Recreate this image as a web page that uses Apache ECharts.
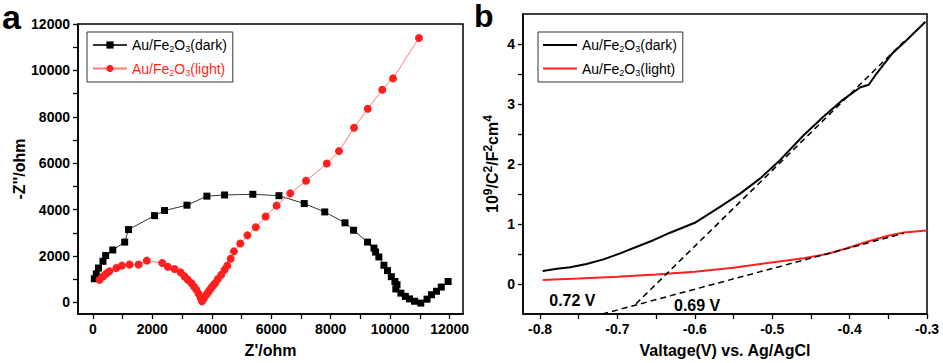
<!DOCTYPE html>
<html>
<head>
<meta charset="utf-8">
<script src="https://cdn.jsdelivr.net/npm/echarts@6/dist/echarts.min.js"></script>
<style>
html,body{margin:0;padding:0;background:#fff;}
#c{width:943px;height:363px;}
</style>
</head>
<body>
<div id="c"></div>
<script>
// ---- Panel a: Nyquist plot (Z' / -Z'') ----
const darkZre = [50,115,190,340,430,670,1070,1200,2075,2410,3165,3835,4430,5380,6260,7110,7800,8480,8770,9240,9455,9510,9620,9790,9910,10040,10160,10230,10190,10360,10510,10650,10820,11030,11240,11390,11560,11720,11950];
const darkZim = [1020,1230,1480,1770,2020,2260,2600,3140,3740,3960,4190,4580,4630,4660,4600,4260,3900,3430,3110,2600,2340,2170,1960,1600,1370,1110,900,760,580,400,260,150,50,-30,140,330,480,660,900];
const lightZre = [225,340,450,560,790,975,1235,1540,1815,2335,2525,2750,2950,3085,3195,3310,3400,3480,3555,3625,3670,3720,3780,3840,3895,3950,4005,4060,4120,4205,4320,4430,4520,4635,4745,4960,5200,5480,5810,6180,6640,7170,7870,8280,8785,9245,9735,10095,10970];
const lightZim = [980,1120,1240,1340,1485,1585,1630,1630,1800,1700,1530,1440,1295,1120,980,835,690,550,375,190,45,150,260,370,475,570,665,750,835,1010,1195,1410,1585,1885,2200,2540,2890,3240,3700,4170,4700,5240,5985,6520,7525,8345,9165,9655,11400];
const zreLabels = [0,2000,4000,6000,8000,10000,12000];
const zreTicks = [0,1000,2000,3000,4000,5000,6000,7000,8000,9000,10000,11000,12000];
const zimLabels = [0,2000,4000,6000,8000,10000,12000];
const zimTicks = [0,1000,2000,3000,4000,5000,6000,7000,8000,9000,10000,11000,12000];

// ---- Panel b: Mott-Schottky plot ----
const msDarkV = [-0.7965,-0.778,-0.761,-0.740,-0.718,-0.6965,-0.675,-0.6535,-0.632,-0.6,-0.567,-0.541,-0.5155,-0.4918,-0.4594,-0.4336,-0.4098,-0.386,-0.3753,-0.3667,-0.345,-0.3258,-0.302];
const msDarkC = [0.217,0.255,0.28,0.333,0.41,0.51,0.62,0.73,0.855,1.02,1.29,1.51,1.76,2.04,2.48,2.79,3.06,3.28,3.32,3.48,3.84,4.07,4.37];
const msLightV = [-0.7965,-0.75,-0.7,-0.65,-0.6,-0.55,-0.5155,-0.4594,-0.429,-0.4034,-0.3775,-0.3517,-0.33,-0.3];
const msLightC = [0.067,0.09,0.12,0.16,0.205,0.27,0.333,0.428,0.5,0.595,0.705,0.8,0.86,0.89];
const fitDarkV = [-0.676,-0.33];
const fitDarkC = [-0.33,4.04];
const fitLightV = [-0.7195,-0.33];
const fitLightC = [-0.5,0.845];
const annoV = [-0.7582,-0.597];
const annoC = [-0.267,-0.35];
const annoText = ['0.72 V','0.69 V'];
const vLabels = [-0.8,-0.7,-0.6,-0.5,-0.4,-0.3];
const vTicks = [-0.8,-0.75,-0.7,-0.65,-0.6,-0.55,-0.5,-0.45,-0.4,-0.35,-0.3];
const cLabels = [0,1,2,3,4];
const cTicks = [0,0.5,1,1.5,2,2.5,3,3.5,4];

const zip = (a,b) => a.map((v,i) => [v,b[i]]);
const FONT = 'Liberation Sans';
const RED = '#ff1f1f';

const legendNames = {
  eisDark: ['Au/Fe','2','O','3','(dark)'],
  eisLight: ['Au/Fe','2','O','3','(light)'],
  msDark: ['Au/Fe','2','O','3','(dark)'],
  msLight: ['Au/Fe','2','O','3','(light)']
};
function legendFmt(name){
  const p = legendNames[name];
  const red = name === 'eisLight';
  const t = red ? 'r' : 't', s = red ? 'rs' : 's';
  return `{${t}|${p[0]}}{${s}|${p[1]}}{${t}|${p[2]}}{${s}|${p[3]}}{${t}|${p[4]}}`;
}
function mkRich(){
  return {
    t: {fontSize: 14, fontFamily: FONT, color: '#000'},
    s: {fontSize: 9, fontFamily: FONT, color: '#000', padding: [8,0,0,0]},
    r: {fontSize: 14, fontFamily: FONT, color: RED},
    rs: {fontSize: 9, fontFamily: FONT, color: RED, padding: [8,0,0,0]}
  };
}
function mkLegend(left, data, itemHeight){
  return {
    left: left, top: 32, orient: 'vertical',
    data: data,
    formatter: legendFmt,
    borderColor: '#333', borderWidth: 1, padding: [6,6,5,5],
    itemGap: 8, itemWidth: 34, itemHeight: itemHeight,
    textStyle: {rich: mkRich()},
    selectedMode: false
  };
}
function mkAxis(extra){
  return Object.assign({
    type: 'value',
    axisLine: {show: true, onZero: false, lineStyle: {color: '#000', width: 1.5}},
    splitLine: {show: false},
    nameLocation: 'middle',
    nameTextStyle: {fontFamily: FONT, fontWeight: 'bold', fontSize: 16, color: '#000'}
  }, extra);
}
function labelStyle(custom, fmt){
  return {customValues: custom, fontFamily: FONT, fontWeight: 'bold', fontSize: 14, color: '#000', opacity: 1, formatter: fmt};
}
function tickStyle(custom){
  return {show: true, length: 5, customValues: custom, lineStyle: {color: '#000', width: 1.3}};
}

const option = {
  animation: false,
  backgroundColor: '#fff',
  grid: [
    {left: 78, right: 480, top: 24, bottom: 49, show: true, borderColor: '#000', borderWidth: 1.5},
    {left: 523, right: 16, top: 14, bottom: 49, show: true, borderColor: '#000', borderWidth: 1.5}
  ],
  legend: [
    mkLegend(87, ['eisDark','eisLight'], 9),
    mkLegend(538, [{name: 'msDark', icon: 'rect'}, {name: 'msLight', icon: 'rect'}], 2)
  ],
  xAxis: [
    mkAxis({gridIndex: 0, min: -500, max: 12450, name: "Z'/ohm", nameGap: 28,
      axisTick: tickStyle(zreTicks), axisLabel: labelStyle(zreLabels, v => String(v))}),
    mkAxis({gridIndex: 1, min: -0.822, max: -0.3, name: 'Valtage(V) vs. Ag/AgCl', nameGap: 28,
      axisTick: tickStyle(vTicks), axisLabel: labelStyle(vLabels, v => v.toFixed(1))})
  ],
  yAxis: [
    mkAxis({gridIndex: 0, min: -500, max: 12000, name: "-Z''/ohm", nameGap: 43,
      axisTick: tickStyle(zimTicks), axisLabel: labelStyle(zimLabels, v => String(v))}),
    mkAxis({gridIndex: 1, min: -0.5, max: 4.5,
      name: '{m|10}{p|9}{m|/C}{p|2}{m|/F}{p|2}{m|cm}{p|4}', nameGap: 20,
      nameTextStyle: {fontFamily: FONT, fontWeight: 'bold', fontSize: 16, color: '#000',
        rich: {m: {fontFamily: FONT, fontWeight: 'bold', fontSize: 16, color: '#000'},
               p: {fontFamily: FONT, fontWeight: 'bold', fontSize: 12, color: '#000', padding: [0,0,9,0]}}},
      axisTick: tickStyle(cTicks), axisLabel: labelStyle(cLabels, v => String(v))})
  ],
  graphic: [
    {type: 'text', left: 2, top: 0, style: {text: 'a', font: 'bold 34px ' + FONT, fill: '#000'}},
    {type: 'text', left: 474, top: 0, style: {text: 'b', font: 'bold 32px ' + FONT, fill: '#000'}}
  ],
  series: [
    {name: 'eisDark', type: 'line', xAxisIndex: 0, yAxisIndex: 0, data: zip(darkZre, darkZim),
      symbol: 'rect', symbolSize: 7, itemStyle: {color: '#000'}, lineStyle: {color: '#333', width: 1}},
    {name: 'eisLight', type: 'line', xAxisIndex: 0, yAxisIndex: 0, data: zip(lightZre, lightZim),
      symbol: 'circle', symbolSize: 8, itemStyle: {color: RED}, lineStyle: {color: '#ff7a7a', width: 1}},
    {name: 'msDark', type: 'line', xAxisIndex: 1, yAxisIndex: 1, data: zip(msDarkV, msDarkC),
      symbol: 'none', itemStyle: {color: '#000'}, lineStyle: {color: '#000', width: 2}},
    {name: 'msLight', type: 'line', xAxisIndex: 1, yAxisIndex: 1, data: zip(msLightV, msLightC),
      symbol: 'none', itemStyle: {color: RED}, lineStyle: {color: RED, width: 2}},
    {name: 'fitDark', type: 'line', xAxisIndex: 1, yAxisIndex: 1, data: zip(fitDarkV, fitDarkC),
      symbol: 'none', lineStyle: {color: '#000', width: 1.5, type: [6,4]}},
    {name: 'fitLight', type: 'line', xAxisIndex: 1, yAxisIndex: 1, data: zip(fitLightV, fitLightC),
      symbol: 'none', lineStyle: {color: '#000', width: 1.5, type: [6,4]}},
    {name: 'anno', type: 'scatter', xAxisIndex: 1, yAxisIndex: 1,
      data: annoV.map((v,i) => ({value: [v, annoC[i]], label: {formatter: annoText[i]}})),
      symbolSize: 1, itemStyle: {color: 'rgba(0,0,0,0)'},
      label: {show: true, position: 'inside', fontFamily: FONT, fontWeight: 'bold', fontSize: 16, color: '#000', opacity: 1}}
  ]
};
const chart = echarts.init(document.getElementById('c'), null, {renderer: 'svg'});
chart.setOption(option);
</script>
</body>
</html>
